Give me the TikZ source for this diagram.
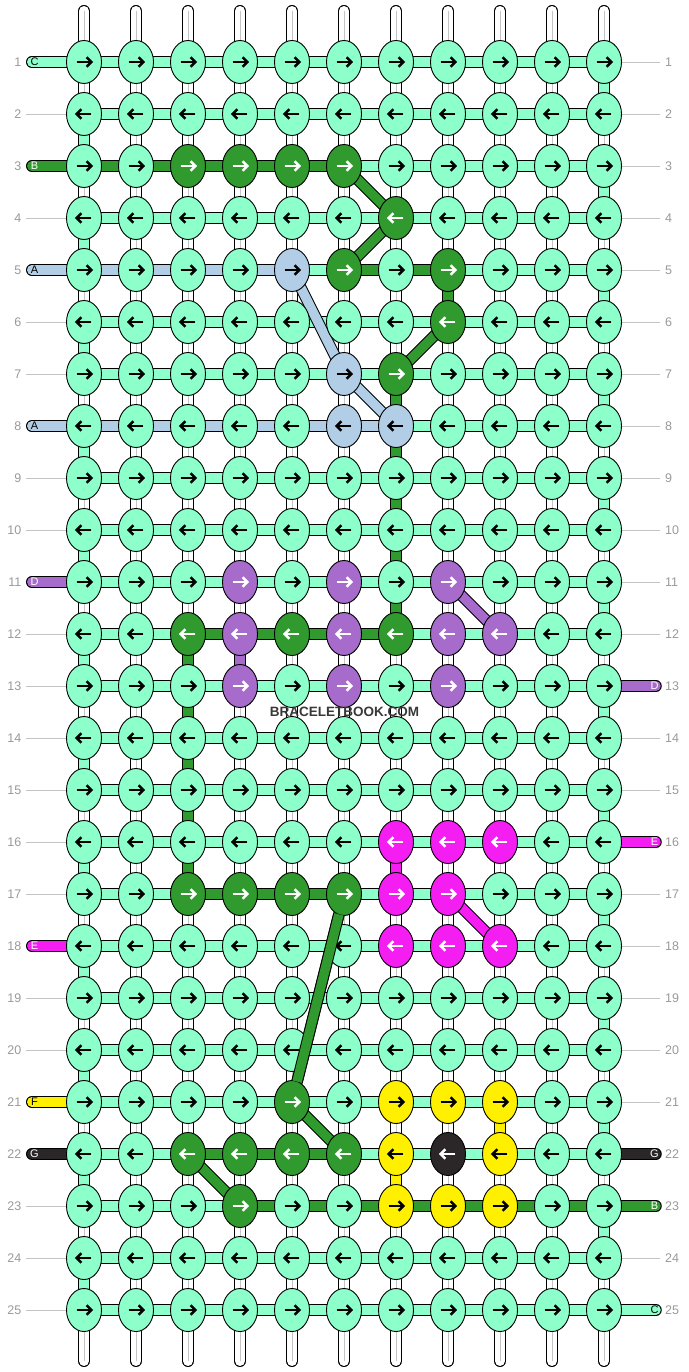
\documentclass[tikz,border=0pt]{standalone}
\usepackage{fontspec}
\setmainfont{Liberation Sans}
\usetikzlibrary{shapes.geometric}
\definecolor{c-m}{HTML}{8DFFCA}
\definecolor{c-g}{HTML}{319A2F}
\definecolor{c-b}{HTML}{B2CEE6}
\definecolor{c-p}{HTML}{A66BCB}
\definecolor{c-q}{HTML}{F41EF2}
\definecolor{c-y}{HTML}{FFF000}
\definecolor{c-k}{HTML}{2B2729}
\colorlet{a-m}{black}\colorlet{a-b}{black}\colorlet{a-y}{black}
\colorlet{a-g}{white}\colorlet{a-p}{white}\colorlet{a-q}{white}\colorlet{a-k}{white}
\definecolor{numgray}{HTML}{9A9A9A}
\definecolor{linegray}{HTML}{C4C4C4}
\definecolor{wmark}{HTML}{383838}
\tikzset{
  knot/.style={ellipse, draw=black, line width=0.9pt, minimum width=35pt, minimum height=43pt, inner sep=0pt},
  linkout/.style={line width=11.5pt, draw=black},
  linkin/.style={line width=9.5pt},
  numlab/.style={text=numgray, font=\fontsize{12.5}{12.5}\selectfont, inner sep=0pt},
  pilllab/.style={font=\fontsize{11}{11}\selectfont, inner sep=0pt},
  guide/.style={draw=linegray, line width=0.8pt},
  arrowline/.style={line width=2.5pt, line join=miter},
}
\newcommand\bblink[3]{\draw[linkout] (#2) -- (#3); \draw[linkin, draw=c-#1] (#2) -- (#3);}
\begin{document}
\begin{tikzpicture}[x=1pt,y=-1pt]
\useasboundingbox (0,0) rectangle (688,1372);
\fill[white] (0,0) rectangle (688,1372);
% grid coordinates
\foreach \rr in {1,...,25}{
  \foreach \cc in {1,...,11}{
    \coordinate (p-\cc-\rr) at ({32+52*\cc},{10+52*\rr});
  }
  \coordinate (L-\rr) at (31.75,{10+52*\rr});
  \coordinate (R-\rr) at (656,{10+52*\rr});
  \coordinate (gl-\rr) at (26,{10+52*\rr});
  \coordinate (gr-\rr) at (660,{10+52*\rr});
}
% warp strands
\foreach \cc in {1,...,11}{
  \coordinate (s-\cc-t) at ({32+52*\cc},11);
  \coordinate (s-\cc-b) at ({32+52*\cc},1361);
  \draw[line width=12pt, line cap=round] (s-\cc-t) -- (s-\cc-b);
  \draw[white, line width=10pt, line cap=round] (s-\cc-t) -- (s-\cc-b);
  \draw[draw=linegray, line width=1pt] ([xshift=0.5pt]s-\cc-t) -- ([xshift=0.5pt]s-\cc-b);
}
% guide lines for rows without edge strings
\foreach \rr in {2,4,6,7,9,10,12,13,14,15,16,17,19,20,23,24,25}{
  \draw[guide] (gl-\rr) -- ([xshift=-17.5pt]p-1-\rr);
}
\foreach \rr in {1,2,3,4,5,6,7,8,9,10,11,12,14,15,17,18,19,20,21,24}{
  \draw[guide] ([xshift=17.5pt]p-11-\rr) -- (gr-\rr);
}
% edge strings
\foreach \rr/\kc/\lt/\tc in {1/m/C/black, 3/g/B/white, 5/b/A/black, 8/b/A/black, 11/p/D/white, 18/q/E/white, 21/y/F/black, 22/k/G/white}{
  \draw[linkout, line cap=round] (L-\rr) -- (p-1-\rr);
  \draw[linkin, line cap=round, draw=c-\kc] (L-\rr) -- (p-1-\rr);
  \node[pilllab, text=\tc] (lt-\rr) at ([xshift=2.75pt]L-\rr) {\lt};
}
\foreach \rr/\kc/\lt/\tc in {13/p/D/white, 16/q/E/white, 22/k/G/white, 23/g/B/white, 25/m/C/black}{
  \draw[linkout, line cap=round] (p-11-\rr) -- (R-\rr);
  \draw[linkin, line cap=round, draw=c-\kc] (p-11-\rr) -- (R-\rr);
  \node[pilllab, text=\tc] (rt-\rr) at ([xshift=-1.5pt]R-\rr) {\lt};
}
% horizontal links
\foreach \rr/\row in {
 1/{m,m,m,m,m,m,m,m,m,m},
 2/{m,m,m,m,m,m,m,m,m,m},
 3/{g,g,g,g,g,m,m,m,m,m},
 4/{m,m,m,m,m,m,m,m,m,m},
 5/{b,b,b,b,m,g,g,m,m,m},
 6/{m,m,m,m,m,m,m,m,m,m},
 7/{m,m,m,m,m,m,m,m,m,m},
 8/{b,b,b,b,b,b,m,m,m,m},
 9/{m,m,m,m,m,m,m,m,m,m},
 10/{m,m,m,m,m,m,m,m,m,m},
 11/{m,m,m,m,m,m,m,m,m,m},
 12/{m,m,g,g,g,g,m,m,m,m},
 13/{m,m,m,m,m,m,m,m,m,m},
 14/{m,m,m,m,m,m,m,m,m,m},
 15/{m,m,m,m,m,m,m,m,m,m},
 16/{m,m,m,m,m,m,m,m,m,m},
 17/{m,m,g,g,g,m,m,m,m,m},
 18/{m,m,m,m,m,m,m,m,m,m},
 19/{m,m,m,m,m,m,m,m,m,m},
 20/{m,m,m,m,m,m,m,m,m,m},
 21/{m,m,m,m,m,m,m,m,m,m},
 22/{m,m,g,g,g,m,m,m,m,m},
 23/{m,m,m,g,g,g,g,g,g,g},
 24/{m,m,m,m,m,m,m,m,m,m},
 25/{m,m,m,m,m,m,m,m,m,m}}{
  \foreach \kc [count=\cc] in \row {
    \pgfmathtruncatemacro\cn{\cc+1}
    \bblink{\kc}{p-\cc-\rr}{p-\cn-\rr}
  }
}
% turn-arounds at the edges
\foreach \rr in {2,4,...,24}{
  \pgfmathtruncatemacro\rn{\rr+1}
  \bblink{m}{p-1-\rr}{p-1-\rn}
}
\foreach \rr in {1,3,...,23}{
  \pgfmathtruncatemacro\rn{\rr+1}
  \bblink{m}{p-11-\rr}{p-11-\rn}
}
% vertical coloured links
\foreach \cc/\rr/\kc in {8/5/g, 7/7/g, 7/8/g, 7/9/g, 7/10/g, 7/11/g, 3/12/g, 3/13/g, 3/14/g, 3/15/g, 3/16/g, 4/12/p, 7/16/q, 9/21/y, 7/22/y}{
  \pgfmathtruncatemacro\rn{\rr+1}
  \bblink{\kc}{p-\cc-\rr}{p-\cc-\rn}
}
% diagonal links
\foreach \a/\b/\kc in {6-3/7-4/g, 7-4/6-5/g, 8-6/7-7/g, 6-17/5-21/g, 5-21/6-22/g, 3-22/4-23/g, 5-5/6-7/b, 6-7/7-8/b, 8-11/9-12/p, 8-17/9-18/q}{
  \bblink{\kc}{p-\a}{p-\b}
}
% knots
\foreach \rr/\row in {
 1/{m,m,m,m,m,m,m,m,m,m,m},
 2/{m,m,m,m,m,m,m,m,m,m,m},
 3/{m,m,g,g,g,g,m,m,m,m,m},
 4/{m,m,m,m,m,m,g,m,m,m,m},
 5/{m,m,m,m,b,g,m,g,m,m,m},
 6/{m,m,m,m,m,m,m,g,m,m,m},
 7/{m,m,m,m,m,b,g,m,m,m,m},
 8/{m,m,m,m,m,b,b,m,m,m,m},
 9/{m,m,m,m,m,m,m,m,m,m,m},
 10/{m,m,m,m,m,m,m,m,m,m,m},
 11/{m,m,m,p,m,p,m,p,m,m,m},
 12/{m,m,g,p,g,p,g,p,p,m,m},
 13/{m,m,m,p,m,p,m,p,m,m,m},
 14/{m,m,m,m,m,m,m,m,m,m,m},
 15/{m,m,m,m,m,m,m,m,m,m,m},
 16/{m,m,m,m,m,m,q,q,q,m,m},
 17/{m,m,g,g,g,g,q,q,m,m,m},
 18/{m,m,m,m,m,m,q,q,q,m,m},
 19/{m,m,m,m,m,m,m,m,m,m,m},
 20/{m,m,m,m,m,m,m,m,m,m,m},
 21/{m,m,m,m,g,m,y,y,y,m,m},
 22/{m,m,g,g,g,g,y,k,y,m,m},
 23/{m,m,m,g,m,m,y,y,y,m,m},
 24/{m,m,m,m,m,m,m,m,m,m,m},
 25/{m,m,m,m,m,m,m,m,m,m,m}}{
  \pgfmathtruncatemacro\dd{2*mod(\rr,2)-1}
  \foreach \kc [count=\cc] in \row {
    \node[knot, fill=c-\kc] (k-\cc-\rr) at (p-\cc-\rr) {};
    \begin{scope}[shift={(p-\cc-\rr)}, xscale=\dd]
      \draw[arrowline, draw=a-\kc] (-7.3,0) -- (6.6,0);
      \draw[arrowline, draw=a-\kc] (2.6,-4.8) -- (7.4,0) -- (2.6,4.8);
    \end{scope}
  }
}
% long diagonal crosses over knots
\draw[linkout, shorten <=21pt, shorten >=21pt] (p-6-17) -- (p-5-21);
\draw[linkin, draw=c-g, shorten <=21pt, shorten >=21pt] (p-6-17) -- (p-5-21);
% row numbers
\foreach \rr in {1,...,25}{
  \node[numlab, anchor=east] (nl-\rr) at ([xshift=-10.25pt]L-\rr) {\rr};
  \node[numlab, anchor=west] (nr-\rr) at ([xshift=9pt]R-\rr) {\rr};
}
% watermark
\node[font=\bfseries\fontsize{13.5}{14}\selectfont, text=wmark, inner sep=0pt] (wm) at (344.5,712) {BRACELETBOOK.COM};
\end{tikzpicture}
\end{document}
